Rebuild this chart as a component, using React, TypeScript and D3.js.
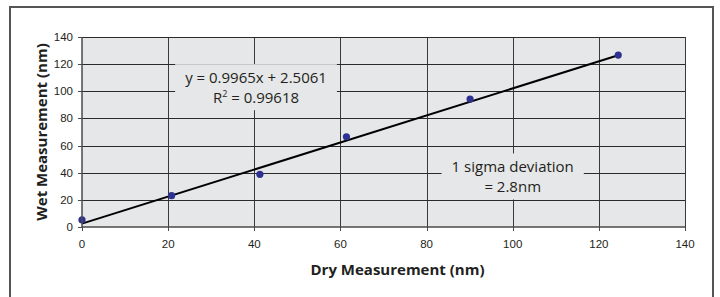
import React, { useRef, useEffect } from "react";
import * as d3 from "d3";

// measured points (nm)
const dryValues = [0, 20.8, 41.3, 61.4, 90.1, 124.5];
const wetValues = [5.2, 23.1, 38.8, 66.5, 94.3, 126.7];

const xTicks = [0, 20, 40, 60, 80, 100, 120, 140];
const yTicks = [0, 20, 40, 60, 80, 100, 120, 140];

// linear fit shown on the chart
const fitSlope = 0.9965;
const fitIntercept = 2.5061;
const fitR2 = 0.99618;
const sigma = 2.8;

// annotation boxes, anchored in data units; [text, superscript, text] pieces per line
const notes = [
  { x: 40.4, y: 102.3, lines: [[`y = ${fitSlope}x + ${fitIntercept}`], ["R", "2", ` = ${fitR2}`]] },
  { x: 100, y: 36.5, lines: [["1 sigma deviation"], [`= ${sigma}nm`]] },
];

const W = 720;
const H = 297;
const ink = "#231f20";

const App = () => {
  const svgRef = useRef<SVGSVGElement>(null);

  useEffect(() => {
    const svg = d3.select(svgRef.current);
    svg.selectAll("*").remove();

    const x = d3.scaleLinear().domain([0, 140]).range([82, 685]);
    const y = d3.scaleLinear().domain([0, 140]).range([227, 37]);
    const crisp = (v: number) => Math.round(v) + 0.5;

    // outer frame (open at the bottom edge)
    svg.append("rect")
      .attr("x", 10).attr("y", 7).attr("width", 703).attr("height", 310)
      .attr("fill", "none").attr("stroke", "#555").attr("stroke-width", 2);

    // plot background
    svg.append("rect")
      .attr("x", x(0)).attr("y", y(140))
      .attr("width", x(140) - x(0)).attr("height", y(0) - y(140))
      .attr("fill", "#e6e7e8");

    // grid
    svg.selectAll(".vgrid")
      .data(xTicks.filter(d => d > 0))
      .join("line")
      .attr("class", "vgrid")
      .attr("x1", d => crisp(x(d))).attr("x2", d => crisp(x(d)))
      .attr("y1", y(140)).attr("y2", y(0))
      .attr("stroke", "#3a3a3a").attr("stroke-width", 1);

    svg.selectAll(".hgrid")
      .data(yTicks.filter(d => d > 0))
      .join("line")
      .attr("class", "hgrid")
      .attr("x1", x(0)).attr("x2", x(140))
      .attr("y1", d => crisp(y(d))).attr("y2", d => crisp(y(d)))
      .attr("stroke", "#2a2a2a").attr("stroke-width", 1);

    // annotation boxes
    notes.forEach(note => {
      const g = svg.append("g");
      const cx = x(note.x);
      const cy = y(note.y);
      const lineGap = 20;
      note.lines.forEach((parts, i) => {
        const t = g.append("text")
          .attr("x", cx)
          .attr("y", cy - lineGap / 2 + i * lineGap + 5)
          .attr("text-anchor", "middle")
          .attr("font-family", "'Open Sans', sans-serif")
          .attr("font-size", 15)
          .attr("fill", ink);
        parts.forEach((p, j) => {
          if (j % 2 === 1) {
            t.append("tspan").attr("font-size", 9).attr("dy", -6).text(p);
          } else {
            const s = t.append("tspan").text(p);
            if (j > 0) s.attr("dy", 6);
          }
        });
      });
      const bb = (g.node() as SVGGElement).getBBox();
      g.insert("rect", "text")
        .attr("x", bb.x - 10).attr("y", bb.y - 3)
        .attr("width", bb.width + 20).attr("height", bb.height + 6)
        .attr("fill", "#e6e7e8");
    });

    // trend line
    const xEnd = d3.max(dryValues) as number;
    svg.append("line")
      .attr("x1", x(0)).attr("y1", y(fitIntercept))
      .attr("x2", x(xEnd)).attr("y2", y(fitSlope * xEnd + fitIntercept))
      .attr("stroke", "#000").attr("stroke-width", 2);

    // points
    svg.selectAll(".pt")
      .data(dryValues)
      .join("circle")
      .attr("class", "pt")
      .attr("cx", d => x(d))
      .attr("cy", (d, i) => y(wetValues[i]))
      .attr("r", 3.6)
      .attr("fill", "#2e3192");

    // axes
    const axisColor = "#4a4a4a";
    svg.append("line")
      .attr("x1", crisp(x(0)) - 0.5).attr("x2", crisp(x(0)) - 0.5)
      .attr("y1", y(140)).attr("y2", y(0))
      .attr("stroke", axisColor).attr("stroke-width", 1.5);
    svg.append("line")
      .attr("x1", x(0)).attr("x2", x(140))
      .attr("y1", y(0)).attr("y2", y(0))
      .attr("stroke", axisColor).attr("stroke-width", 1.5);

    svg.selectAll(".ytick")
      .data(yTicks)
      .join("line")
      .attr("class", "ytick")
      .attr("x1", x(0) - 4).attr("x2", x(0))
      .attr("y1", d => crisp(y(d))).attr("y2", d => crisp(y(d)))
      .attr("stroke", axisColor);
    svg.selectAll(".xtick")
      .data(xTicks)
      .join("line")
      .attr("class", "xtick")
      .attr("x1", d => crisp(x(d))).attr("x2", d => crisp(x(d)))
      .attr("y1", y(0)).attr("y2", y(0) + 4)
      .attr("stroke", axisColor);

    svg.selectAll(".ylab")
      .data(yTicks)
      .join("text")
      .attr("class", "ylab")
      .attr("x", 73)
      .attr("y", d => y(d) + 4)
      .attr("text-anchor", "end")
      .attr("font-family", "'Liberation Sans', Arial, sans-serif")
      .attr("font-size", 11.5)
      .attr("fill", ink)
      .text(d => d);
    svg.selectAll(".xlab")
      .data(xTicks)
      .join("text")
      .attr("class", "xlab")
      .attr("x", d => x(d))
      .attr("y", 248)
      .attr("text-anchor", "middle")
      .attr("font-family", "'Liberation Sans', Arial, sans-serif")
      .attr("font-size", 11.5)
      .attr("fill", ink)
      .text(d => d);

    // axis titles
    svg.append("text")
      .attr("x", 397.5).attr("y", 275)
      .attr("text-anchor", "middle")
      .attr("font-family", "'Open Sans', sans-serif")
      .attr("font-weight", 700)
      .attr("font-size", 15)
      .attr("fill", ink)
      .text("Dry Measurement (nm)");
    svg.append("text")
      .attr("transform", `translate(47,${(y(0) + y(140)) / 2}) rotate(-90)`)
      .attr("text-anchor", "middle")
      .attr("font-family", "'Open Sans', sans-serif")
      .attr("font-weight", 700)
      .attr("font-size", 15)
      .attr("fill", ink)
      .text("Wet Measurement (nm)");
  }, []);

  return (
    <svg
      ref={svgRef}
      width={W}
      height={H}
      style={{ position: "absolute", left: 0, top: 0, background: "#fff" }}
    />
  );
};

export default App;
